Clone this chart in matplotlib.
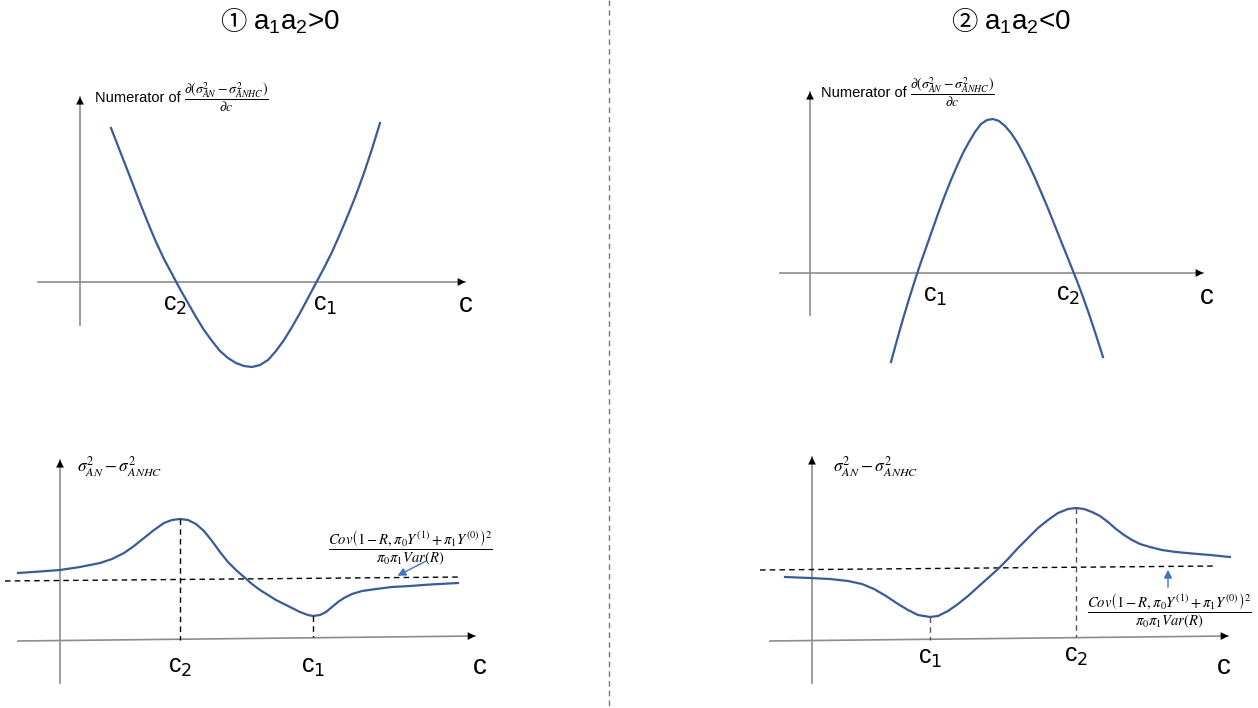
import matplotlib
matplotlib.use('Agg')
import matplotlib.pyplot as plt
import numpy as np

# curve points (pixel coords, y down)
top1_x = [111, 118, 125, 132, 140, 148, 156, 164, 172, 180, 188, 196, 204, 212, 220, 228, 236, 244,
          252, 260, 268, 276, 284, 292, 300, 308, 316, 324, 332, 340, 348, 356, 364, 372, 380]
top1_y = [128, 146, 164, 182, 203, 223, 242, 259, 274, 289, 303, 317, 330, 341, 351, 358, 363, 366,
          367, 365, 360, 351, 340, 327, 313, 298, 283, 268, 252, 234, 215, 195, 173, 149, 123]

top2_x = [891, 897, 903, 909, 915, 921, 927, 933, 939, 945, 951, 957, 963, 969, 975, 981, 987, 993,
          999, 1005, 1011, 1017, 1023, 1029, 1035, 1041, 1047, 1053, 1059, 1065, 1071, 1077, 1083,
          1089, 1095, 1103]
top2_y = [362, 340, 319, 299, 280, 262, 245, 228, 211, 195, 180, 166, 153, 142, 132, 124, 120, 119,
          121, 126, 133, 142, 153, 165, 178, 192, 206, 221, 236, 251, 266, 281, 297, 314, 332, 357]

bot1_x = [18, 40, 60, 80, 100, 112, 124, 134, 144, 154, 164, 172, 180, 188, 196, 204, 212, 220, 228,
          236, 244, 252, 260, 268, 276, 284, 292, 300, 308, 313, 320, 326, 332, 338, 344, 352, 362,
          376, 392, 410, 430, 458]
bot1_y = [573, 571.5, 570, 567, 563, 559, 553, 546, 538, 530, 523, 520, 519, 520, 524, 531, 541, 552,
          562, 570, 577, 584, 590, 595, 600, 604, 608, 612, 615, 616, 615, 612, 607, 602, 598, 594,
          591, 589, 587, 586, 584.5, 583]

bot2_x = [785, 810, 830, 848, 862, 874, 886, 898, 908, 918, 930, 938, 948, 958, 968, 978, 988, 998,
          1008, 1018, 1028, 1038, 1048, 1058, 1068, 1076, 1084, 1092, 1100, 1108, 1116, 1124, 1132,
          1140, 1150, 1162, 1176, 1192, 1210, 1230]
bot2_y = [577, 578, 579, 581, 584, 589, 596, 604, 610, 615, 617, 616, 611, 604, 596, 587, 578, 569,
          559, 548, 538, 528, 520, 513, 509, 508, 509, 512, 516, 522, 529, 535, 540, 544, 547, 550,
          552, 553.5, 555, 557]

titles = ['①', '②']
signs = [r'$\mathregular{a_1a_2}$>0', r'$\mathregular{a_1a_2}$<0']
num_frac = r'$\dfrac{\partial(\sigma^2_{AN}-\sigma^2_{ANHC})}{\partial c}$'
diff_label = r'$\sigma^2_{AN}-\sigma^2_{ANHC}$'
limit_label = r'$\dfrac{Cov\left(1-R,\pi_0Y^{(1)}+\pi_1Y^{(0)}\right)^2}{\pi_0\pi_1Var(R)}$'

blue = '#3b5a9a'
axgray = '#8c8c8c'
dash = (0, (4, 3))

fig = plt.figure(figsize=(12.58, 7.08), dpi=100)
ax = fig.add_axes([0, 0, 1, 1])
ax.set_xlim(0, 1258)
ax.set_ylim(708, 0)
ax.axis('off')


def axis_arrow(x0, y0, x1, y1):
    ax.plot([x0, x1], [y0, y1], color=axgray, lw=1.2)
    ax.annotate('', xy=(x1 + (x1 - x0) * 0.001, y1 + (y1 - y0) * 0.001), xytext=(x1, y1),
                arrowprops=dict(arrowstyle='-|>', color='black', mutation_scale=14, lw=0))


def clabel(x, y, s, size=18):
    ax.text(x, y, s, fontsize=size, family='Liberation Sans', ha='center', va='center')


# divider
ax.plot([609, 609], [0, 708], color='#777777', lw=1, ls=dash)

# titles
for cx, t, s in zip([233, 964], titles, signs):
    ax.text(cx, 23, t, fontsize=19, ha='center', va='center',
            family=['Noto Sans CJK SC', 'DejaVu Sans'])
    ax.text(cx + 20, 22, s, fontsize=20, ha='left', va='center', family='Liberation Sans')

# ---- top left
axis_arrow(80, 325, 80, 97)
axis_arrow(38, 282, 465, 282)
ax.plot(top1_x, top1_y, color=blue, lw=1.6)
ax.text(95, 98, 'Numerator of', fontsize=10.5, family='Liberation Sans', va='center')
ax.text(184, 97, num_frac, fontsize=10, va='center', math_fontfamily='stix')
clabel(175, 305, r'c$_2$')
clabel(325, 305, r'c$_1$')
clabel(466, 305, 'c', 20)

# ---- top right
axis_arrow(810, 315, 810, 92)
axis_arrow(780, 273, 1203, 273)
ax.plot(top2_x, top2_y, color=blue, lw=1.6)
ax.text(821, 93, 'Numerator of', fontsize=10.5, family='Liberation Sans', va='center')
ax.text(910, 92, num_frac, fontsize=10, va='center', math_fontfamily='stix')
clabel(935, 296, r'c$_1$')
clabel(1068, 295, r'c$_2$')
clabel(1207, 297, 'c', 20)

# ---- bottom left
axis_arrow(60, 683, 60, 460)
axis_arrow(18, 641, 475, 636)
ax.plot([5, 462], [581, 577], color='black', lw=1, ls=dash)
ax.plot(bot1_x, bot1_y, color=blue, lw=1.6)
i_max = int(np.argmin(bot1_y))
i_min = int(np.argmax(bot1_y))
ax.plot([bot1_x[i_max]] * 2, [bot1_y[i_max], 640], color='black', lw=1, ls=dash)
ax.plot([bot1_x[i_min]] * 2, [bot1_y[i_min], 637], color='black', lw=1, ls=dash)
ax.text(77, 467, diff_label, fontsize=12.5, va='center', math_fontfamily='stix')
ax.text(410, 548, limit_label, fontsize=10.5, ha='center', va='center', math_fontfamily='stix')
ax.annotate('', xy=(395, 577), xytext=(428, 560),
            arrowprops=dict(arrowstyle='-|>', color='#4472c4', lw=1, mutation_scale=12))
clabel(bot1_x[i_max], 667, r'c$_2$')
clabel(bot1_x[i_min], 667, r'c$_1$')
clabel(480, 667, 'c', 20)

# ---- bottom right
axis_arrow(812, 683, 812, 457)
axis_arrow(770, 641, 1228, 636)
ax.plot([760, 1215], [570, 566], color='black', lw=1, ls=dash)
ax.plot(bot2_x, bot2_y, color=blue, lw=1.6)
j_max = int(np.argmin(bot2_y))
j_min = int(np.argmax(bot2_y))
ax.plot([bot2_x[j_max]] * 2, [bot2_y[j_max], 637], color='#555555', lw=1, ls=dash)
ax.plot([bot2_x[j_min]] * 2, [bot2_y[j_min], 640], color='#555555', lw=1, ls=dash)
ax.text(833, 467, diff_label, fontsize=12.5, va='center', math_fontfamily='stix')
ax.text(1169, 611, limit_label, fontsize=10.5, ha='center', va='center', math_fontfamily='stix')
ax.annotate('', xy=(1168, 567), xytext=(1168, 590),
            arrowprops=dict(arrowstyle='-|>', color='#4472c4', lw=1, mutation_scale=12))
clabel(bot2_x[j_min], 658, r'c$_1$')
clabel(bot2_x[j_max], 656, r'c$_2$')
clabel(1224, 667, 'c', 20)

fig.savefig('out.png', dpi=100)
